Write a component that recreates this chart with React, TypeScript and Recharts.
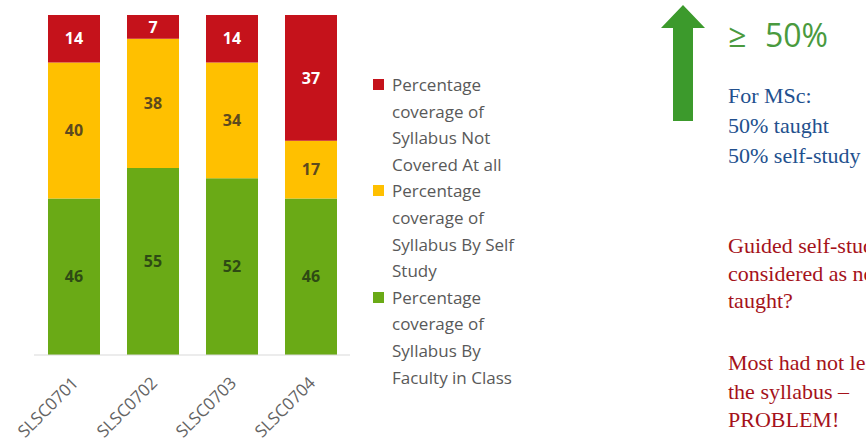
import React from "react";
import { BarChart, Bar, XAxis, YAxis, LabelList } from "recharts";

const categories = ["SLSC0701", "SLSC0702", "SLSC0703", "SLSC0704"];
const notCovered = [14, 7, 14, 37];
const selfStudy = [40, 38, 34, 17];
const faculty = [46, 55, 52, 46];

const seriesNames = {
  notCovered: "Percentage coverage of Syllabus Not Covered At all",
  selfStudy: "Percentage coverage of Syllabus By Self Study",
  faculty: "Percentage coverage of Syllabus By Faculty in Class",
};
const legendLines = {
  notCovered: ["Percentage", "coverage of", "Syllabus Not", "Covered At all"],
  selfStudy: ["Percentage", "coverage of", "Syllabus By Self", "Study"],
  faculty: ["Percentage", "coverage of", "Syllabus By", "Faculty in Class"],
};

const blueNote = ["For MSc:", "50% taught", "50% self-study"];
const redNote1 = ["Guided self-study", "considered as not", "taught?"];
const redNote2 = ["Most had not learned", "the syllabus –", "PROBLEM!"];

const RED = "#C5121B";
const YELLOW = "#FFC000";
const GREEN = "#6AAA16";

const data = categories.map((name, i) => ({
  name,
  faculty: faculty[i],
  selfStudy: selfStudy[i],
  notCovered: notCovered[i],
}));

const SANS = "'Open Sans', 'Noto Sans', sans-serif";
const SERIF = "'Liberation Serif', 'DejaVu Serif', serif";

const Tick = (props: any) => {
  const { x, y, payload } = props;
  const ax = x + 6;
  const ay = y + 21;
  return (
    <text
      x={ax}
      y={ay}
      transform={`rotate(-45, ${ax}, ${ay})`}
      textAnchor="end"
      fill="#646464"
      fontSize={17}
      fontFamily={SANS}
    >
      {payload.value}
    </text>
  );
};

const LegendBox = () => {
  const items: { key: keyof typeof legendLines; color: string }[] = [
    { key: "notCovered", color: RED },
    { key: "selfStudy", color: YELLOW },
    { key: "faculty", color: GREEN },
  ];
  return (
    <div
      style={{
        position: "absolute",
        left: 373,
        top: 72,
        fontFamily: SANS,
        fontSize: 17,
        color: "#595959",
        lineHeight: "26.6px",
      }}
    >
      {items.map((it) => (
        <div key={it.key} style={{ display: "flex", alignItems: "flex-start" }}>
          <div
            style={{
              width: 11,
              height: 11,
              background: it.color,
              marginTop: 7,
              marginRight: 8,
              flex: "none",
            }}
          />
          <div title={seriesNames[it.key]}>
            {legendLines[it.key].map((l, j) => (
              <div key={j} style={{ whiteSpace: "nowrap" }}>{l}</div>
            ))}
          </div>
        </div>
      ))}
    </div>
  );
};

export default function App() {
  return (
    <div
      style={{
        position: "absolute",
        left: 0,
        top: 0,
        width: 866,
        height: 445,
        overflow: "hidden",
        background: "#ffffff",
      }}
    >
      <BarChart
        width={866}
        height={445}
        data={data}
        margin={{ top: 15, right: 516, left: 34, bottom: 0 }}
        barSize={52}
      >
        <XAxis
          dataKey="name"
          axisLine={{ stroke: "#D9D9D9" }}
          tickLine={false}
          tick={<Tick />}
          interval={0}
          height={90}
        />
        <YAxis hide domain={[0, 100]} />
        <Bar dataKey="faculty" stackId="a" fill={GREEN} isAnimationActive={false} name={seriesNames.faculty}>
          <LabelList dataKey="faculty" position="center" fill="#2E4A14" fontSize={16} fontWeight="bold" fontFamily={SANS} />
        </Bar>
        <Bar dataKey="selfStudy" stackId="a" fill={YELLOW} isAnimationActive={false} name={seriesNames.selfStudy}>
          <LabelList dataKey="selfStudy" position="center" fill="#5E4A1E" fontSize={16} fontWeight="bold" fontFamily={SANS} />
        </Bar>
        <Bar dataKey="notCovered" stackId="a" fill={RED} isAnimationActive={false} name={seriesNames.notCovered}>
          <LabelList dataKey="notCovered" position="center" fill="#FFFFFF" fontSize={16} fontWeight="bold" fontFamily={SANS} />
        </Bar>
      </BarChart>

      <LegendBox />

      <svg style={{ position: "absolute", left: 0, top: 0 }} width={866} height={445} pointerEvents="none">
        <polygon points="683,5 705,28 693,28 693,121 673,121 673,28 661,28" fill="#3C9A2C" />
        <text x={728} y={47} fontFamily={SANS} fontSize={32} fill="#4A9A3E">≥</text>
        <text x={765} y={47} fontFamily={SANS} fontSize={32} fill="#4A9A3E">50%</text>
        {blueNote.map((t, i) => (
          <text key={t} x={728} y={103 + i * 30} fontFamily={SERIF} fontSize={22} fill="#22508E">{t}</text>
        ))}
        {redNote1.map((t, i) => (
          <text key={t} x={728} y={253 + i * 27.5} fontFamily={SERIF} fontSize={22} fill="#A5121A">{t}</text>
        ))}
        {redNote2.map((t, i) => (
          <text key={t} x={728} y={370 + i * 28.5} fontFamily={SERIF} fontSize={22} fill="#A5121A">{t}</text>
        ))}
      </svg>
    </div>
  );
}
